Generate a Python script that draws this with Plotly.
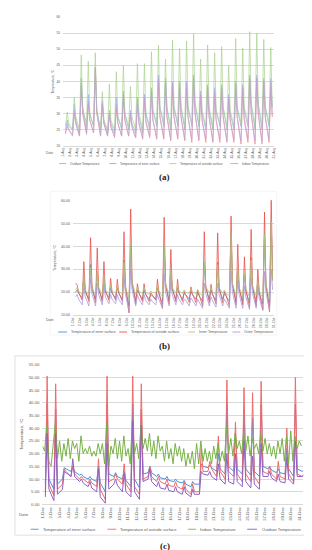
import plotly.graph_objects as go
from datetime import datetime

W, H = 312, 550
def px(x): return x / W
def py(y): return 1 - y / H

# ---------------- Panel (a): August ----------------
a_labels = ["1-Aug","2-Aug","3-Aug","4-Aug","5-Aug","6-Aug","7-Aug","8-Aug","9-Aug","10-Aug",
            "11-Aug","12-Aug","13-Aug","14-Aug","15-Aug","16-Aug","17-Aug","18-Aug","19-Aug","20-Aug",
            "21-Aug","22-Aug","23-Aug","24-Aug","25-Aug","26-Aug","27-Aug","28-Aug","29-Aug","30-Aug","31-Aug"]
a_names = ["Outdoor Temperature", "Temperature of inner surface",
           "Temperature of outside surface", "Indoor Temperature"]
# daily (morning, afternoon peak, evening)
a_out_m = [25,25,24,25,26,25,24,24,25,25,24,24,25,26,26,25,26,25,26,26,25,25,26,25,25,26,26,25,25,26]
a_out_p = [28,33,41,36,44,34,31,35,37,31,35,36,38,42,41,40,40,40,42,37,39,38,39,36,40,39,42,42,41,41]
a_out_e = [26,28,32,30,31,28,27,29,30,27,29,30,31,32,32,32,32,32,33,30,31,31,32,30,32,31,33,33,32,32]
a_inn_m = [24,23.5,23,24,24,23,23,22.5,23,23,22.5,22,22.5,22,22,21.5,22,21.5,21,21.5,21,21,21,21,21,20.5,21,20.5,20.5,21]
a_inn_p = [26,30,38,33,44.5,33,30,32,35,30,33,35,37,40,39,39,38,39,41,36,38,36,38,35,39,38,41,41,40,39]
a_inn_e = [25,27,30,28,30,27,26,27,28,26,27,27,28,29,29,29,29,29,30,28,29,28,29,28,29,28,30,30,29,29]
a_os_m = [26,25,25,27,26,26,25,25,26,26,25,25,26,27,27,26,27,26,27,27,26,26,27,26,26,27,27,26,26,27]
a_os_p = [30.5,35,48.2,46.2,48.9,36.8,39.2,43,45,38.4,45.5,45.5,49.2,51.2,46.9,52.8,50.2,52.5,54.9,46.9,51.3,48.9,50.8,45,53.3,50.3,55.4,54.9,53,50.5]
a_os_e = [27,29,31,30,30,28,28,29,30,29,30,30,31,32,31,32,32,32,33,31,32,31,32,31,32,32,33,33,32,32]
a_ind_m = [23.5,23,23,23.5,24,23,23,23,23,23,22.5,22.5,23,22.5,22.5,22,22.5,22,22,22,22,21.5,22,21.5,22,21.5,22,21.5,21.5,22]
a_ind_p = [27,31,39,34,44,33,30,33,36,30,34,35,37,41,40,39,39,39,41,36,38,37,38,35,39,38,41,41,40,40]
a_ind_e = [25,27,30,28,31,27,26,27,28,26,27,28,28,29,29,29,29,29,30,28,29,28,29,28,29,29,30,30,29,29]
a_colors = ["#8db8e6", "#f08a8a", "#a9d18e", "#b9a6dc"]

# ---------------- Panel (b): October ----------------
b_labels = ["1-Oct","2-Oct","3-Oct","4-Oct","5-Oct","6-Oct","7-Oct","8-Oct","9-Oct","10-Oct",
            "11-Oct","12-Oct","13-Oct","14-Oct","15-Oct","16-Oct","17-Oct","18-Oct","19-Oct","20-Oct",
            "21-Oct","22-Oct","23-Oct","24-Oct","25-Oct","26-Oct","27-Oct","28-Oct","29-Oct","30-Oct","31-Oct"]
b_names = ["Temperature of inner surface", "Temperature of outside surface",
           "Inner Temperature", "Outer Temperature"]
b_inn_m = [20,17.5,17,17,17,17.5,17.5,17,14,16.5,17,17,17,15,16.5,17,17,17,17,16,17,16.5,17,16,16,16,15.5,16,15,14]
b_inn_p = [21,27,32,29,26,22,22,34,40,21,21,19,22,40,30,22,19.5,20.5,20,33,21,33,19.5,46,31,28,35,25,45,51]
b_inn_e = [19.5,20,21,21,20,19.5,19.5,22,23,19.5,19,18.5,19.5,23,21,19.5,19,19,18.5,22,19,21.5,18.5,23,21,20.5,22,19.5,23,25]
b_os_m = [24,16.5,16,15.5,16,16.5,16.5,16,11,15,16,16,16.5,13,15,16,16,15.5,15.5,14,15.5,15,15.5,14,14.5,14.5,13.5,14,12.5,11.5]
b_os_p = [23.2,33.3,43.7,39.3,33.3,26,25.6,46.3,56.2,23.7,23.7,19.7,25.6,52.6,38.6,25.6,20.3,22.3,21.1,46.3,23.4,45.8,20.3,53.1,40.8,35.4,47.3,29.9,54.9,60.8]
b_os_e = [20,21,23,22,21,20,20,23,25,20,19.5,19,20,24,22,20,19,19.5,19,23,19.5,22,19,24,22,21,23,20,24,26]
b_it_m = [21,19,18.5,18.5,19,19.5,19.5,19,17,19,19.5,19,19.5,18,19,19.5,19.5,19.5,19.5,18.5,19.5,19,19.5,18.5,18.5,18.5,18,18.5,17.5,17]
b_it_p = [22,27,31,29,26,23,23,33,40,22,22,20.5,23,40,30,23,21,21.5,21,33,22,32,21,46,31,28,34,25,45,51]
b_it_e = [20.5,21,22,22,21,20.5,20.5,22.5,24,20.5,20,20,20.5,23.5,22,20.5,20,20,19.5,22.5,20,22,19.5,23.5,22,21.5,22.5,20.5,23.5,25]
b_ot_m = [18,14.5,14,14,14.5,15,15,14.5,11.5,14,14.5,14.5,14.5,13,14,14.5,14.5,14,14,13,14,13.5,14,13,13,13,12.5,13,12,12]
b_ot_p = [19,22,26,24,22,19,19,26,30,19,19,17,19,28,24,19,17,17.5,17,24,18,24,17,29,25,23,26,21,29,30]
b_ot_e = [17,18,19.5,19,18,17,17,19.5,21,17,16.5,16,17,20,19,17,16.5,16.5,16,19.5,16.5,19,16,20,19,18,19.5,17.5,20,21]
b_colors = ["#4f8fd0", "#e8504a", "#b3c77a", "#b09ad8"]

# ---------------- Panel (c): December ----------------
c_labels = ["1-Dec","2-Dec","3-Dec","4-Dec","5-Dec","6-Dec","7-Dec","8-Dec","9-Dec","10-Dec",
            "11-Dec","12-Dec","13-Dec","14-Dec","15-Dec","16-Dec","17-Dec","18-Dec","19-Dec","20-Dec",
            "21-Dec","22-Dec","23-Dec","24-Dec","25-Dec","26-Dec","27-Dec","28-Dec","29-Dec","30-Dec","31-Dec"]
c_names = ["Temperature of inner surface", "Temperature of outside surface",
           "Indoor Temperature", "Outdoor Temperature"]
c_inn_m = [8,6,10,13,11.5,10,9,5,11,10,7,6.5,12.5,11,10,9,8.5,7,8,14.5,13,12,13,12,11.5,11,14,12.5,12,11,13]
c_inn_p = [39.7,37.5,14.5,15,12,11,15,39.5,12.5,13,39.5,37.5,15,12,11,10,9.5,9,16,15.5,20,39.5,28,37,34,39.5,15,14,22,39.5,13.5]
c_inn_e = [10,8,14,13,11,10,8.5,12,11,9.5,10,12,12.5,10.5,9.5,9,8,8,15,14.5,14,15,14,14,13,15,13.5,12.5,14,14,13]
c_os_m = [5,3.5,8,11,10,8.5,7,2,10,8,5,4,11,9,8,7,6,4,5,13,11,10,11,9,9,8,12,10,10,9,11]
c_os_p = [50.5,47.5,14,15,11,10,18,50.5,12,16,50.5,47.5,15,11,10,9,9,8,22,17,27,49,32.5,46,44,48.5,15,17,30,50,12]
c_os_e = [8,6,13,12,10,8.5,6,9,10,8,7,10,11,9,7.5,7,6,5,13,14,13,13,12,12,11,13,12,11,12,12,11]
c_ind = [23,21,31,17, 15,24,32,18, 25,17,24,19, 26,18,25,22, 24,17,27,20, 22,20,23,19,
         21,19,24,20, 24,16,32,15, 23,20,26,18, 25,17,27,19, 22,16,33,20, 24,18,31,22,
         26,21,28,19, 25,18,27,21, 23,17,25,18, 22,16,24,19, 23,17,22,15, 20,16,21,14,
         24,16,25,17, 22,17,21,16, 23,18,24,17, 21,17,31,20, 26,19,28,22, 25,20,28,21,
         27,19,26,22, 24,20,28,21, 26,20,24,19, 23,18,25,20, 26,17,27,16, 29,17,27,22, 25,23]
c_out_m = [3,1.5,6,11,9,7,5,0.5,8,5,3,2,10,7,6,5,4,3,4,11.5,9.5,8,8,7,6.5,6,11,9,8.5,8,11]
c_out_p = [28,28,13,18,10,9,14,24,10,12,33,31,14,9,8,7,7,6,13,13,16,20,20,25,19,24,13,12,18.5,25,11.5]
c_out_e = [6,4,12.5,11,8.5,6.5,3,6,7.5,5,5,9,9,6.5,5.5,5,4.5,4,12,11,10,9,9,9,8,11,10.5,9,10,11,11]
c_colors = ["#4a8fd6", "#f06a6c", "#78b146", "#9060c2"]

GRID = "#d9d9d9"
TXT = "#595959"
FONT = "Liberation Sans"


def tri_times(year, month, ndays, hours):
    return [datetime(year, month, d, h) for d in range(1, ndays + 1) for h in hours]


def tri_vals(m, p, e):
    out = []
    for a, b, c in zip(m, p, e):
        out += [a, b, c]
    return out


fig = go.Figure()

# panel a traces
ta = tri_times(2019, 8, len(a_out_m), [8, 14, 19])
for name, col, (m, p, e) in zip(a_names, a_colors,
                                [(a_out_m, a_out_p, a_out_e), (a_inn_m, a_inn_p, a_inn_e),
                                 (a_os_m, a_os_p, a_os_e), (a_ind_m, a_ind_p, a_ind_e)]):
    fig.add_trace(go.Scatter(x=ta, y=tri_vals(m, p, e), mode="lines", name=name,
                             line=dict(color=col, width=0.7), xaxis="x", yaxis="y",
                             showlegend=False))

# panel b traces
tb = tri_times(2019, 10, len(b_inn_m), [9, 15, 20])
for name, col, (m, p, e) in zip(b_names, b_colors,
                                [(b_inn_m, b_inn_p, b_inn_e), (b_os_m, b_os_p, b_os_e),
                                 (b_it_m, b_it_p, b_it_e), (b_ot_m, b_ot_p, b_ot_e)]):
    fig.add_trace(go.Scatter(x=tb, y=tri_vals(m, p, e), mode="lines", name=name,
                             line=dict(color=col, width=0.8), xaxis="x2", yaxis="y2",
                             showlegend=False))

# panel c traces
tc = tri_times(2019, 12, len(c_inn_m), [8, 13, 18])
tc_ind = [datetime(2019, 12, 1 + i // 4, (i % 4) * 6) for i in range(len(c_ind))]
fig.add_trace(go.Scatter(x=tc, y=tri_vals(c_inn_m, c_inn_p, c_inn_e), mode="lines", name=c_names[0],
                         line=dict(color=c_colors[0], width=1), xaxis="x3", yaxis="y3", showlegend=False))
fig.add_trace(go.Scatter(x=tc, y=tri_vals(c_os_m, c_os_p, c_os_e), mode="lines", name=c_names[1],
                         line=dict(color=c_colors[1], width=1), xaxis="x3", yaxis="y3", showlegend=False))
fig.add_trace(go.Scatter(x=tc_ind, y=c_ind, mode="lines", name=c_names[2],
                         line=dict(color=c_colors[2], width=1), xaxis="x3", yaxis="y3", showlegend=False))
fig.add_trace(go.Scatter(x=tc, y=tri_vals(c_out_m, c_out_p, c_out_e), mode="lines", name=c_names[3],
                         line=dict(color=c_colors[3], width=1), xaxis="x3", yaxis="y3", showlegend=False))


def xax(dom, anchor, year, month, labels, end, fs):
    ticks = [datetime(year, month, d) for d in range(1, len(labels) + 1)]
    return dict(domain=dom, anchor=anchor, type="date", range=[datetime(year, month, 1), end],
                tickvals=ticks, ticktext=labels, tickangle=-90,
                tickfont=dict(size=fs, color=TXT, family=FONT), showgrid=False,
                showline=True, linecolor=GRID, linewidth=0.6, ticks="", zeroline=False)


def yax(dom, anchor, rng, dt, fmt, fs):
    return dict(domain=dom, anchor=anchor, range=rng, dtick=dt, tick0=0, tickformat=fmt,
                tickfont=dict(size=fs, color=TXT, family=FONT), gridcolor=GRID, gridwidth=0.5,
                showline=False, zeroline=False, ticks="", ticklabelstandoff=2)


fig.update_layout(
    width=W, height=H, autosize=False, margin=dict(l=0, r=0, t=0, b=0),
    paper_bgcolor="white", plot_bgcolor="white",
    xaxis=xax([px(53), px(267)], "y", 2019, 8, a_labels, datetime(2019, 8, 31), 3.3),
    yaxis=yax([py(137), py(7)], "x", [20, 60], 5, "d", 3.3),
    xaxis2=xax([px(63), px(267)], "y2", 2019, 10, b_labels, datetime(2019, 10, 31), 3.6),
    yaxis2=yax([py(308), py(192)], "x2", [10, 60], 10, ".2f", 3.6),
    xaxis3=xax([px(32), px(297)], "y3", 2019, 12, c_labels, datetime(2019, 12, 31, 11), 4.3),
    yaxis3=yax([py(499), py(358)], "x3", [0, 55], 5, ".2f", 4.3),
)

ann = []
shapes = []

def text(x, y, s, size, angle=0, anchor="center", color=TXT, family=FONT):
    ann.append(dict(x=px(x), y=py(y), xref="paper", yref="paper", text=s, showarrow=False,
                    textangle=angle, xanchor=anchor, yanchor="middle",
                    font=dict(size=size, color=color, family=family)))

# axis titles & "Date"
text(43, 72, "Temperature, °C", 3.3, -90)
text(45, 144, "Date", 3.3, 0, "right")
text(44, 250, "Temperature, °C", 3.6, -90)
text(46, 313, "Date", 3.6, 0, "right")
text(10, 428, "Temperature, °C", 4.3, -90)
text(20, 509, "Date", 4.3, 0, "right")

# legends
def legend(items, y, size):
    for (x0, x1, tx, name, col) in items:
        shapes.append(dict(type="line", xref="paper", yref="paper", x0=px(x0), x1=px(x1),
                           y0=py(y), y1=py(y), line=dict(color=col, width=0.9)))
        text(tx, y, name, size, 0, "left")

legend([(49, 56, 58, a_names[0], a_colors[0]), (100, 107, 109, a_names[1], a_colors[1]),
        (161, 168, 170, a_names[2], a_colors[2]), (223, 231, 233, a_names[3], a_colors[3])], 155, 3.1)
legend([(48, 57, 59, b_names[0], b_colors[0]), (110, 118, 120, b_names[1], b_colors[1]),
        (180, 187, 189, b_names[2], b_colors[2]), (225, 233, 235, b_names[3], b_colors[3])], 325, 3.5)
legend([(20, 28, 30, c_names[0], c_colors[0]), (98, 107, 109, c_names[1], c_colors[1]),
        (180, 188, 190, c_names[2], c_colors[2]), (240, 250, 253, c_names[3], c_colors[3])], 524, 4.1)

# captions
text(156, 169, "<b>(a)</b>", 9, 0, "center", "#222222", "Liberation Serif")
text(156, 339, "<b>(b)</b>", 9, 0, "center", "#222222", "Liberation Serif")
text(156, 541, "<b>(c)</b>", 9, 0, "center", "#222222", "Liberation Serif")

# chart-area borders
shapes.append(dict(type="rect", xref="paper", yref="paper", x0=px(40), x1=px(270), y0=py(328), y1=py(183),
                   line=dict(color="#eeeeee", width=0.6)))
shapes.append(dict(type="rect", xref="paper", yref="paper", x0=px(4), x1=px(306), y0=py(530), y1=py(349),
                   line=dict(color="#d9d9d9", width=0.8)))

fig.update_layout(annotations=ann, shapes=shapes)
fig.write_html("out.html")
